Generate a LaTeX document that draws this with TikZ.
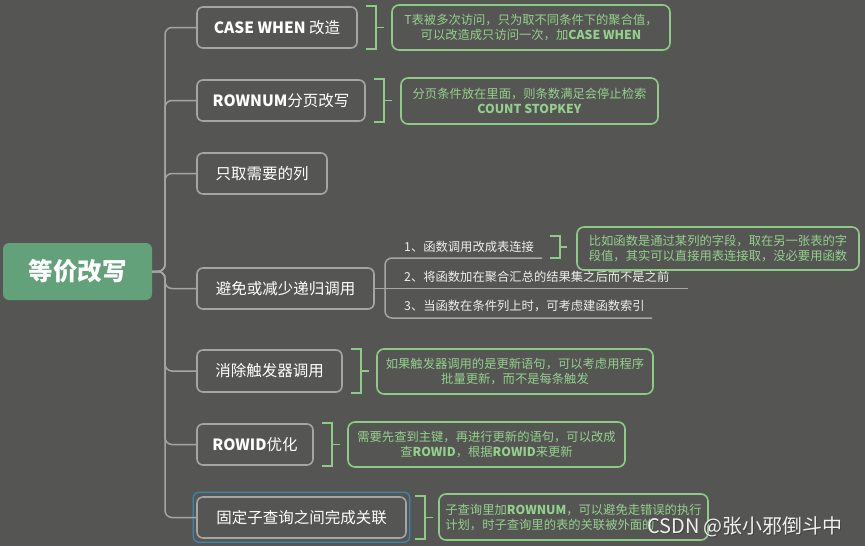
\documentclass[tikz,border=0pt]{standalone}
\usepackage{fontspec}
\setmainfont{Noto Sans CJK SC}
\usetikzlibrary{calc}
\definecolor{bg}{HTML}{555653}
\definecolor{rootg}{HTML}{63A17B}
\definecolor{gline}{HTML}{A5A5A3}
\definecolor{ngreen}{HTML}{8DCB86}
\definecolor{ntext}{HTML}{94D08D}
\definecolor{hblue}{HTML}{3A86B2}
\definecolor{subtext}{HTML}{EDEDED}
\newcommand\mybrk[1]{%
  \draw[brk] ($(#1.north east)+(8,0)$) -- ($(#1.north east)+(18,0)$) -- ($(#1.south east)+(18,0)$) -- ($(#1.south east)+(8,0)$);
  \draw[brk] ($(#1.east)+(18,0)$) -- ++(8,0);}
\begin{document}
\begin{tikzpicture}[x=1pt,y=-1pt,
 rootbox/.style={fill=rootg,rounded corners=6pt,text=white,font=\fontsize{24.5}{28}\selectfont\bfseries,inner sep=0pt},
 branch/.style={draw=gline,line width=1.6pt,rounded corners=6pt,fill=bg,text=white,font=\fontsize{15.5}{18}\selectfont,inner sep=0pt},
 note/.style={draw=ngreen,line width=1.6pt,rounded corners=7pt,text=ntext,font=\fontsize{12.3}{15}\selectfont,align=center,inner sep=0pt},
 link/.style={draw=gline,line width=1.5pt,rounded corners=7pt},
 brk/.style={draw=ngreen,line width=1.6pt},
 sub/.style={text=subtext,font=\fontsize{12.3}{15}\selectfont,inner sep=0pt,anchor=west},
]
\fill[bg] (0,0) rectangle (865,546);
\useasboundingbox (0,0) rectangle (865,546);

% root
\node[rootbox,minimum width=149pt,minimum height=57pt] (root) at (77.5,271.5) {等价改写};
\coordinate (tr) at (165,271.5);

% branches
\node[branch,minimum width=160pt,minimum height=41pt] (b1) at (277,27.5) {\textbf{CASE WHEN} 改造};
\node[branch,minimum width=168pt,minimum height=41pt] (b2) at (281,100.5) {\textbf{ROWNUM}分页改写};
\node[branch,minimum width=130pt,minimum height=41pt] (b3) at (262,173.5) {只取需要的列};
\node[branch,minimum width=177pt,minimum height=41pt] (b4) at (285.5,288.5) {避免或减少递归调用};
\node[branch,minimum width=145pt,minimum height=42pt] (b5) at (269.5,371) {消除触发器调用};
\node[branch,minimum width=116pt,minimum height=41pt] (b6) at (255,444.5) {\textbf{ROWID}优化};
\node[branch,minimum width=209pt,minimum height=41pt] (b7) at (301.5,517.5) {固定子查询之间完成关联};
\draw[hblue,line width=1.3pt,rounded corners=6pt] ($(b7.north west)+(-3,-4)$) rectangle ($(b7.south east)+(3,3.5)$);

% trunk links
\foreach \b in {b1,b2,b3,b4,b5,b6,b7}{
  \draw[link] (root.east) -- (tr) |- (\b.west);
}

% notes
\node[note,minimum width=278pt,minimum height=45pt] (n1) at (531,27.5) {T表被多次访问，只为取不同条件下的聚合值，\\可以改造成只访问一次，加\textbf{CASE WHEN}};
\node[note,minimum width=257pt,minimum height=46pt] (n2) at (529.5,101) {分页条件放在里面，则条数满足会停止检索\\\textbf{COUNT STOPKEY}};
\node[note,minimum width=276pt,minimum height=45pt] (n5) at (515,371.5) {如果触发器调用的是更新语句，可以考虑用程序\\批量更新，而不是每条触发};
\node[note,minimum width=277pt,minimum height=45pt] (n6) at (486.5,444.5) {需要先查到主键，再进行更新的语句，可以改成\\查\textbf{ROWID}，根据\textbf{ROWID}来更新};
\node[note,minimum width=269pt,minimum height=46pt,align=left] (n7) at (573.5,517) {子查询里加\textbf{ROWNUM}，可以避免走错误的执行\\计划，时子查询里的表的关联被外面的};

\mybrk{b1}
\mybrk{b2}
\mybrk{b5}
\mybrk{b6}
\mybrk{b7}

% sub items of b4
\node[sub] (s1) at (404,247) {1、函数调用改成表连接};
\node[sub] (s2) at (404,276.5) {2、将函数加在聚合汇总的结果集之后而不是之前};
\node[sub] (s3) at (404,306) {3、当函数在条件列上时，可考虑建函数索引};
\coordinate (sj) at (385,288.5);
\coordinate (e1) at (542,258);
\coordinate (e2) at (688,288.5);
\coordinate (e3) at (652,318);
\draw[link] (e1) -- (e1 -| sj) -- (e3 -| sj) -- (e3);
\draw[link] (b4.east) -- (e2);

\node[note,minimum width=282pt,minimum height=43pt] (n4) at (718,248.5) {比如函数是通过某列的字段，取在另一张表的字\\段值，其实可以直接用表连接取，没必要用函数};
\draw[brk] (550,236) -- (560,236) -- (560,258) -- (550,258);
\draw[brk] (560,247) -- (567,247);

% watermark
\node[text=black!75,font=\fontsize{20}{22}\selectfont] (wms) at (745.8,527.8) {CSDN @张小邪倒斗中};
\node[text=white!88!gray,font=\fontsize{20}{22}\selectfont] (wm) at (745,527) {CSDN @张小邪倒斗中};
\end{tikzpicture}
\end{document}
